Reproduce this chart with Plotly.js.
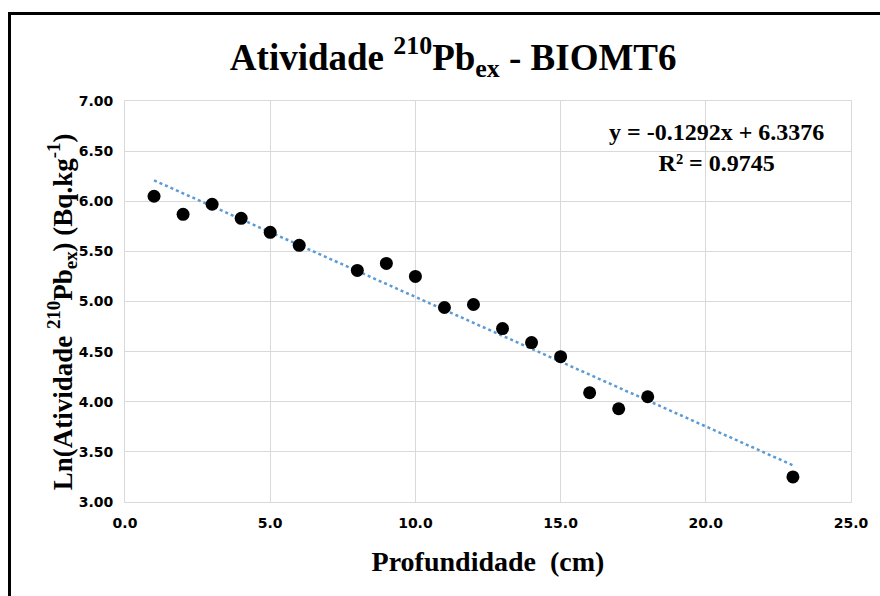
<!DOCTYPE html>
<html>
<head>
<meta charset="utf-8">
<script src="https://cdn.plot.ly/plotly-3.0.1.min.js"></script>
<style>
html,body{margin:0;padding:0;background:#fff;}
#wrap{position:relative;width:880px;height:596px;}
#frame{position:absolute;left:8px;top:12px;right:0;bottom:0;border-top:3px solid #000;border-left:3px solid #000;pointer-events:none;z-index:5;}
#chart{position:absolute;left:0;top:0;width:880px;height:596px;}
</style>
</head>
<body>
<div id="wrap"><div id="chart"></div><div id="frame"></div></div>
<script>
const depth = [1, 2, 3, 4, 5, 6, 8, 9, 10, 11, 12, 13, 14, 15, 16, 17, 18, 23];
const lnActivity = [6.05, 5.87, 5.97, 5.83, 5.69, 5.56, 5.31, 5.38, 5.25, 4.94, 4.97, 4.73, 4.59, 4.45, 4.09, 3.93, 4.05, 3.25];
const trendCoef = [-0.1292, 6.3376];
const trendRange = [1, 23];
const xTicks = [0, 5, 10, 15, 20, 25];
const xTickLabels = ['0.0', '5.0', '10.0', '15.0', '20.0', '25.0'];
const yTicks = [3, 3.5, 4, 4.5, 5, 5.5, 6, 6.5, 7];
const yTickLabels = ['3.00', '3.50', '4.00', '4.50', '5.00', '5.50', '6.00', '6.50', '7.00'];

const trendY = trendRange.map(x => trendCoef[0] * x + trendCoef[1]);

const serif = '"Liberation Serif", "Times New Roman", serif';
const sans = '"DejaVu Sans", Verdana, sans-serif';

const traces = [
  {
    x: trendRange, y: trendY, type: 'scatter', mode: 'lines',
    line: {color: '#5b9bd5', width: 2.5, dash: 'dot'}, hoverinfo: 'skip'
  },
  {
    x: depth, y: lnActivity, type: 'scatter', mode: 'markers',
    marker: {color: '#000', size: 13, line: {width: 0}}
  }
];

const layout = {
  width: 880, height: 596,
  margin: {l: 125, r: 29, t: 101, b: 94},
  paper_bgcolor: '#fff', plot_bgcolor: '#fff',
  showlegend: false,
  title: {
    text: '<b>Atividade <sup>210</sup>Pb<sub>ex</sub> - BIOMT6</b>',
    font: {family: serif, size: 37, color: '#000'},
    x: 0.515, xanchor: 'center', y: 0.905, yanchor: 'middle'
  },
  xaxis: {
    range: [0, 25], tickvals: xTicks, ticktext: xTickLabels,
    showgrid: true, gridcolor: '#d9d9d9', gridwidth: 1,
    zeroline: false, showline: true, linecolor: '#d9d9d9', mirror: true,
    ticks: '', ticklabelstandoff: 8,
    tickfont: {family: sans, size: 14, color: '#000', weight: 'bold'},
    title: {text: '<b>Profundidade  (cm)</b>', font: {family: serif, size: 28, color: '#000'}, standoff: 21}
  },
  yaxis: {
    range: [3, 7], tickvals: yTicks, ticktext: yTickLabels,
    showgrid: true, gridcolor: '#d9d9d9', gridwidth: 1,
    zeroline: false, showline: true, linecolor: '#d9d9d9', mirror: true,
    ticks: '', ticklabelstandoff: 8,
    tickfont: {family: sans, size: 14, color: '#000', weight: 'bold'}
  },
  annotations: [
    {
      xref: 'paper', yref: 'paper', x: -0.087, y: 0.475,
      xanchor: 'center', yanchor: 'middle', showarrow: false, textangle: -90,
      text: '<b>Ln(Atividade <sup>210</sup>Pb<sub>ex</sub>) (Bq.kg<sup>-1</sup>)</b>',
      font: {family: serif, size: 27, color: '#000'}
    },
    {
      xref: 'paper', yref: 'paper', x: 0.815, y: 0.885,
      xanchor: 'center', yanchor: 'middle', showarrow: false, align: 'center',
      text: '<b>y = -0.1292x + 6.3376<br>R² = 0.9745</b>',
      font: {family: serif, size: 24, color: '#000'}
    }
  ]
};

Plotly.newPlot('chart', traces, layout, {displayModeBar: false, staticPlot: true});
</script>
</body>
</html>
